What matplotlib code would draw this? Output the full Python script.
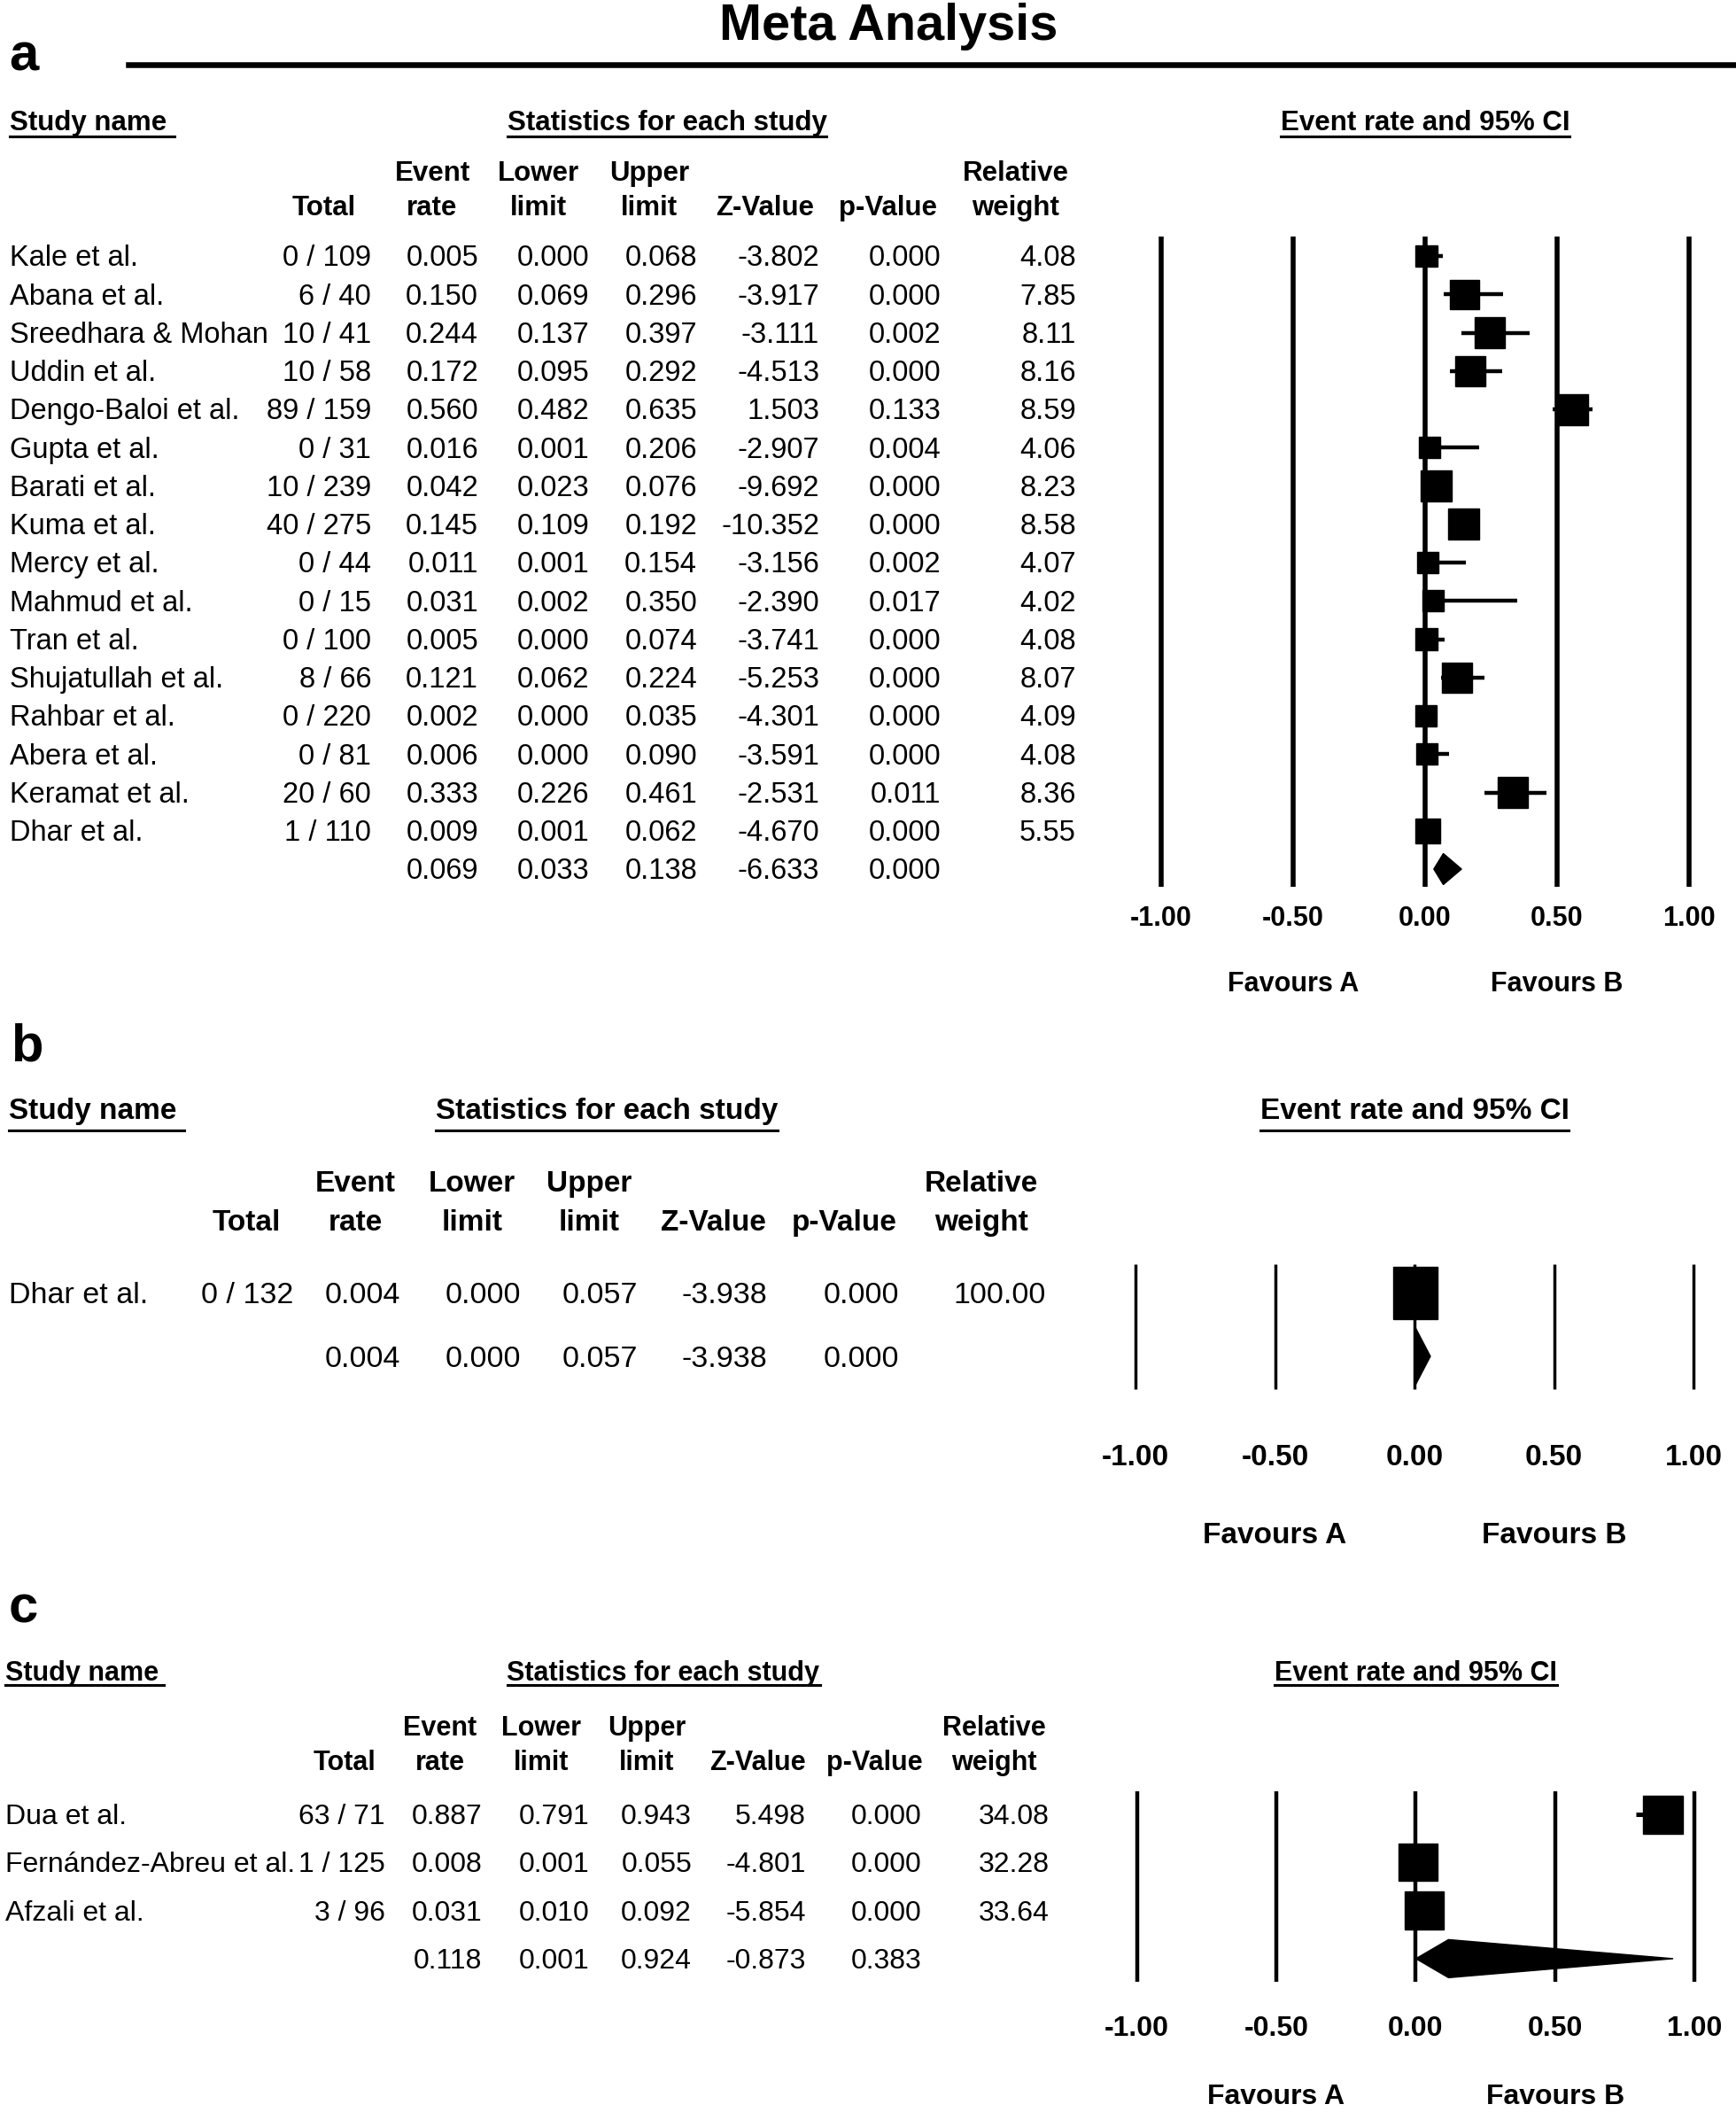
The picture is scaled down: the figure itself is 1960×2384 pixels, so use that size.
import matplotlib
matplotlib.use('Agg')
import numpy as np
import matplotlib.pyplot as plt
from matplotlib.patches import Rectangle, Polygon
from matplotlib.lines import Line2D
from matplotlib.transforms import blended_transform_factory

plt.rcParams['font.family'] = ['Liberation Sans', 'DejaVu Sans']

# ---- panel a ----
a_names = ['Kale et al.', 'Abana et al.', 'Sreedhara & Mohan', 'Uddin et al.', 'Dengo-Baloi et al.',
           'Gupta et al.', 'Barati et al.', 'Kuma et al.', 'Mercy et al.', 'Mahmud et al.',
           'Tran et al.', 'Shujatullah et al.', 'Rahbar et al.', 'Abera et al.', 'Keramat et al.',
           'Dhar et al.']
a_events = [0, 6, 10, 10, 89, 0, 10, 40, 0, 0, 0, 8, 0, 0, 20, 1]
a_totals = [109, 40, 41, 58, 159, 31, 239, 275, 44, 15, 100, 66, 220, 81, 60, 110]
a_rate = [0.005, 0.150, 0.244, 0.172, 0.560, 0.016, 0.042, 0.145, 0.011, 0.031, 0.005, 0.121, 0.002, 0.006, 0.333, 0.009]
a_lower = [0.000, 0.069, 0.137, 0.095, 0.482, 0.001, 0.023, 0.109, 0.001, 0.002, 0.000, 0.062, 0.000, 0.000, 0.226, 0.001]
a_upper = [0.068, 0.296, 0.397, 0.292, 0.635, 0.206, 0.076, 0.192, 0.154, 0.350, 0.074, 0.224, 0.035, 0.090, 0.461, 0.062]
a_z = [-3.802, -3.917, -3.111, -4.513, 1.503, -2.907, -9.692, -10.352, -3.156, -2.390, -3.741, -5.253, -4.301, -3.591, -2.531, -4.670]
a_p = [0.000, 0.000, 0.002, 0.000, 0.133, 0.004, 0.000, 0.000, 0.002, 0.017, 0.000, 0.000, 0.000, 0.000, 0.011, 0.000]
a_weight = [4.08, 7.85, 8.11, 8.16, 8.59, 4.06, 8.23, 8.58, 4.07, 4.02, 4.08, 8.07, 4.09, 4.08, 8.36, 5.55]
a_summary = [0.069, 0.033, 0.138, -6.633, 0.000]   # rate, lower, upper, z, p

# ---- panel b ----
b_names = ['Dhar et al.']
b_events = [0]
b_totals = [132]
b_rate = [0.004]
b_lower = [0.000]
b_upper = [0.057]
b_z = [-3.938]
b_p = [0.000]
b_weight = [100.00]
b_summary = [0.004, 0.000, 0.057, -3.938, 0.000]

# ---- panel c ----
c_names = ['Dua et al.', 'Fernández-Abreu et al.', 'Afzali et al.']
c_events = [63, 1, 3]
c_totals = [71, 125, 96]
c_rate = [0.887, 0.008, 0.031]
c_lower = [0.791, 0.001, 0.010]
c_upper = [0.943, 0.055, 0.092]
c_z = [5.498, -4.801, -5.854]
c_p = [0.000, 0.000, 0.000]
c_weight = [34.08, 32.28, 33.64]
c_summary = [0.118, 0.001, 0.924, -0.873, 0.383]

ticks = [-1.0, -0.5, 0.0, 0.5, 1.0]
hdr1 = ['', 'Event', 'Lower', 'Upper', '', '', 'Relative']
hdr2 = ['Total', 'rate', 'limit', 'limit', 'Z-Value', 'p-Value', 'weight']

W, H, DPI = 1960, 2384, 100
fig = plt.figure(figsize=(W / DPI, H / DPI), dpi=DPI)
underlined = []


def put(x, yc, s, fs, ha='left', bold=False, transform=None):
    # yc = vertical centre of capitals, in pixels from the top
    base = yc + 0.35 * fs * DPI / 72.0
    kw = dict(fontsize=fs, ha=ha, va='baseline', fontweight='bold' if bold else 'normal')
    if transform is None:
        return fig.text(x / W, 1 - base / H, s, **kw)
    return fig.text(x, 1 - base / H, s, transform=transform, **kw)


def panel(names, events, totals, rate, lower, upper, zv, pv, weight, summary, L):
    fs, hfs = L['fs'], L['hfs']
    n = len(names)
    rows_y = [L['y0'] + i * L['step'] for i in range(n + 1)]

    # forest axes
    unit = (L['x_p1'] - L['x_m1']) / 2.0
    pad = 60
    left, right = L['x_m1'] - pad, L['x_p1'] + pad
    top, bot = L['top'], L['bot']
    ax = fig.add_axes([left / W, 1 - bot / H, (right - left) / W, (bot - top) / H])
    ax.set_xlim(-1 - pad / unit, 1 + pad / unit)
    ax.set_ylim((bot - L['y0']) / L['step'], (top - L['y0']) / L['step'])
    ax.axis('off')
    ylo, yhi = ax.get_ylim()
    ax.vlines(ticks, yhi, ylo, colors='black', lw=L['vlw'], capstyle='butt', zorder=1, clip_on=False)

    wmax = max(weight)
    for i in range(n):
        ax.hlines(i, lower[i], upper[i], colors='black', lw=L['cilw'], zorder=2)
        f = np.sqrt(weight[i] / wmax)
        bw = L['box'][0] * f / unit
        bh = L['box'][1] * f / L['step']
        ax.add_patch(Rectangle((rate[i] - bw / 2, i - bh / 2), bw, bh, color='black', zorder=3))
    hh = L['dia'] / L['step']
    ax.add_patch(Polygon([(summary[1], n), (summary[0], n - hh), (summary[2], n), (summary[0], n + hh)],
                         closed=True, color='black', zorder=3))

    tr = blended_transform_factory(ax.transData, fig.transFigure)
    for t in ticks:
        put(t, L['tick_y'], '%.2f' % t, L['tfs'], ha='center', bold=True, transform=tr)
    put(-0.5, L['fav_y'], 'Favours A', L['tfs'], ha='center', bold=True, transform=tr)
    put(0.5, L['fav_y'], 'Favours B', L['tfs'], ha='center', bold=True, transform=tr)

    # headers
    underlined.append((put(L['name_x'], L['top_y'], 'Study name', hfs, bold=True), L['ul_y'], L['ul_extra']))
    underlined.append((put(L['stats_cx'], L['top_y'], 'Statistics for each study', hfs, ha='center', bold=True), L['ul_y'], 0))
    underlined.append((put(0.0, L['top_y'], 'Event rate and 95% CI', hfs, ha='center', bold=True, transform=tr), L['ul_y'], 0))
    for cx, s1, s2 in zip(L['hdr_cx'], hdr1, hdr2):
        if s1:
            put(cx, L['h1_y'], s1, hfs, ha='center', bold=True)
        put(cx, L['h2_y'], s2, hfs, ha='center', bold=True)

    # table rows
    R = L['right']
    for i in range(n):
        y = rows_y[i]
        put(L['name_x'], y, names[i], fs)
        vals = ['%d / %d' % (events[i], totals[i]), '%.3f' % rate[i], '%.3f' % lower[i],
                '%.3f' % upper[i], '%.3f' % zv[i], '%.3f' % pv[i], '%.2f' % weight[i]]
        for x, s in zip(R, vals):
            put(x, y, s, fs, ha='right')
    for x, v in zip(R[1:6], summary):
        put(x, rows_y[n], '%.3f' % v, fs, ha='right')


# title
fig.text(1003 / W, 1 - 45 / H, 'Meta Analysis', fontsize=41.5, fontweight='bold', ha='center', va='baseline')
fig.add_artist(Line2D([145 / W, 1.0], [1 - 72.5 / H] * 2, color='black', lw=4.7, transform=fig.transFigure))

for lab, bx, by in [('a', 10, 80), ('b', 12, 1197), ('c', 10, 1832)]:
    fig.text(bx / W, 1 - by / H, lab, fontsize=43, fontweight='bold', ha='left', va='baseline')

panel(a_names, a_events, a_totals, a_rate, a_lower, a_upper, a_z, a_p, a_weight, a_summary, dict(
    fs=23.5, hfs=22.5, tfs=22, y0=289, step=43.25, name_x=11,
    right=[419, 540, 665, 787, 925, 1062, 1215], hdr_cx=[366, 488, 608, 733, 864, 1002, 1147],
    h1_y=193, h2_y=232, top_y=136, ul_y=154, ul_extra=9, stats_cx=753,
    x_m1=1311, x_p1=1907, top=267, bot=1001, tick_y=1034, fav_y=1108,
    vlw=4.0, cilw=3.2, box=(35, 35), dia=17.5))

panel(b_names, b_events, b_totals, b_rate, b_lower, b_upper, b_z, b_p, b_weight, b_summary, dict(
    fs=24.5, hfs=24, tfs=24, y0=1459, step=72, name_x=10,
    right=[331, 452, 588, 720, 866, 1015, 1181], hdr_cx=[278, 401, 533, 665, 805, 953, 1108],
    h1_y=1333, h2_y=1377, top_y=1251, ul_y=1276, ul_extra=9, stats_cx=685,
    x_m1=1282, x_p1=1912, top=1427, bot=1568, tick_y=1642, fav_y=1730,
    vlw=2.5, cilw=2.2, box=(50, 59), dia=32))

panel(c_names, c_events, c_totals, c_rate, c_lower, c_upper, c_z, c_p, c_weight, c_summary, dict(
    fs=23, hfs=22, tfs=23, y0=2048, step=54.3, name_x=6,
    right=[435, 544, 665, 781, 910, 1041, 1185], hdr_cx=[389, 497, 611, 730, 855, 987, 1122],
    h1_y=1948, h2_y=1987, top_y=1886, ul_y=1902, ul_extra=6, stats_cx=749,
    x_m1=1283.5, x_p1=1913, top=2022, bot=2237, tick_y=2287, fav_y=2364,
    vlw=3.2, cilw=3.6, box=(45, 43), dia=21.5))

# underline the section headers
fig.canvas.draw()
rend = fig.canvas.get_renderer()
for t, uy, extra in underlined:
    bb = t.get_window_extent(rend)
    fig.add_artist(Line2D([bb.x0 / W, (bb.x1 + extra) / W], [1 - uy / H] * 2, color='black', lw=2.2,
                          transform=fig.transFigure))

fig.savefig('out.png', dpi=DPI)
